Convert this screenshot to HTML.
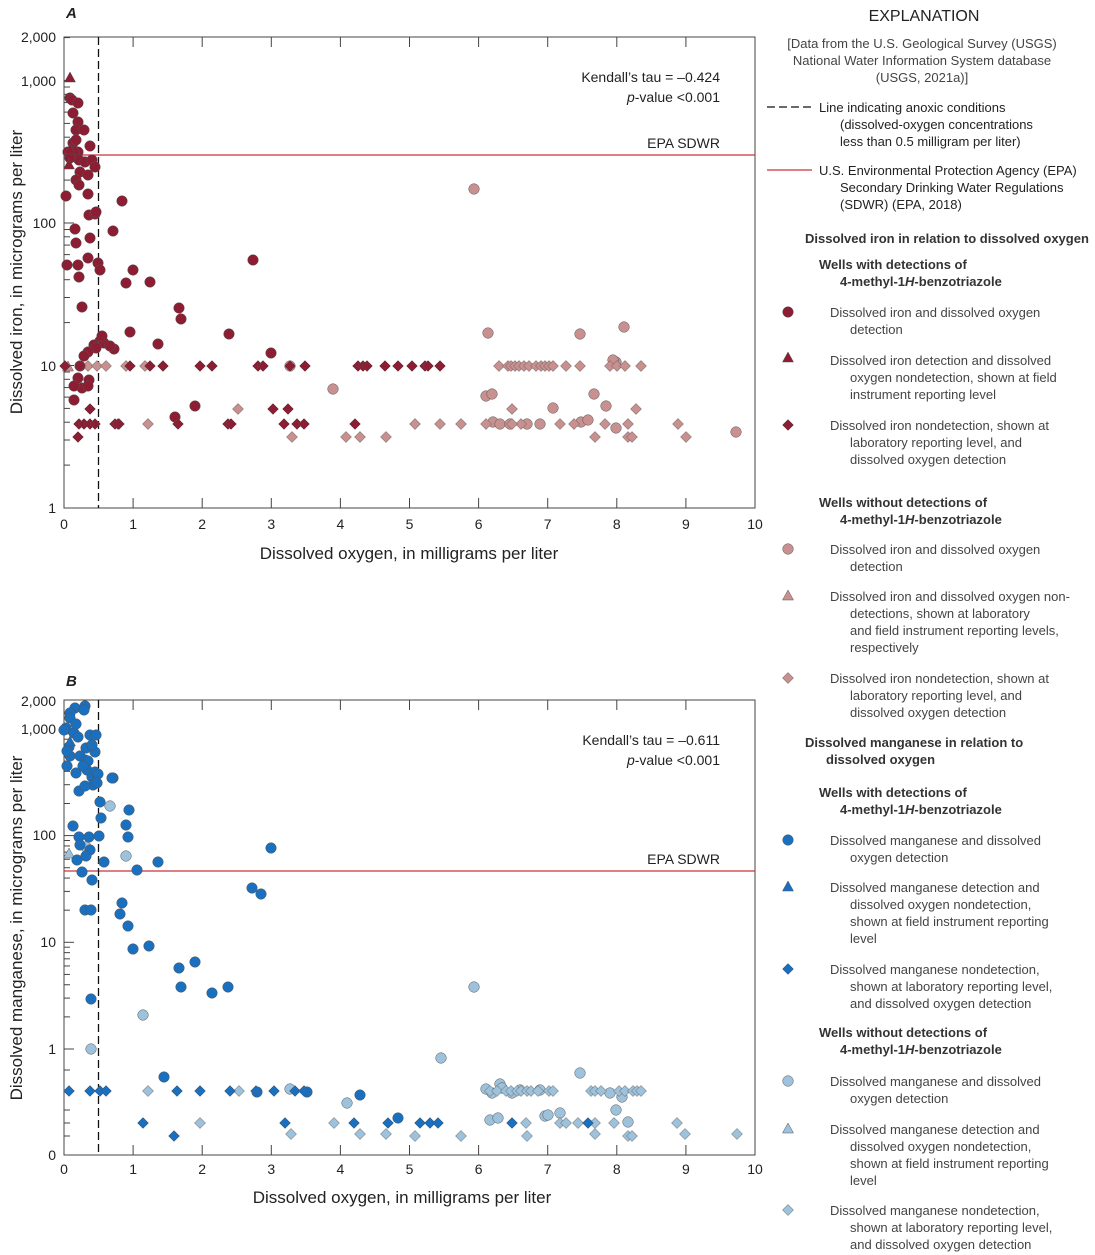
<!DOCTYPE html>
<html><head><meta charset="utf-8"><style>
body{margin:0;background:#fff;}
svg{display:block;font-family:"Liberation Sans Narrow","Liberation Sans",sans-serif;}
</style></head><body>
<svg id="s" width="1095" height="1255" viewBox="0 0 1095 1255" xmlns="http://www.w3.org/2000/svg">
<g font-size="15" fill="#222">
<text x="66" y="18" font-weight="bold" font-style="italic">A</text>
<text x="66" y="686" font-weight="bold" font-style="italic">B</text>
<!-- A axes -->
<rect x="64" y="37" width="691" height="471" fill="none" stroke="#444" stroke-width="1"/>
<line x1="64" y1="155" x2="755" y2="155" stroke="#c8343c" stroke-width="1.3"/>
<line x1="98.5" y1="37" x2="98.5" y2="508" stroke="#111" stroke-width="1.3" stroke-dasharray="8,4"/>
<g text-anchor="end" font-size="14"><text x="56" y="42">2,000</text><text x="56" y="86">1,000</text><text x="56" y="228">100</text><text x="56" y="371">10</text><text x="56" y="513">1</text></g>
<g text-anchor="middle" font-size="14" id="xa"></g>
<text x="409" y="559" text-anchor="middle" font-size="17">Dissolved oxygen, in milligrams per liter</text>
<text transform="translate(22,272) rotate(-90)" text-anchor="middle" font-size="17">Dissolved iron, in micrograms per liter</text>
<text x="720" y="82" text-anchor="end" font-size="14">Kendall’s tau = –0.424</text>
<text x="720" y="102" text-anchor="end" font-size="14"><tspan font-style="italic">p</tspan>-value &lt;0.001</text>
<text x="720" y="148" text-anchor="end" font-size="14">EPA SDWR</text>
<!-- B axes -->
<rect x="64" y="700" width="691" height="455" fill="none" stroke="#444" stroke-width="1"/>
<line x1="64" y1="871" x2="755" y2="871" stroke="#c8343c" stroke-width="1.3"/>
<line x1="98.5" y1="700" x2="98.5" y2="1155" stroke="#111" stroke-width="1.3" stroke-dasharray="8,4"/>
<g text-anchor="end" font-size="14"><text x="56" y="706">2,000</text><text x="56" y="734">1,000</text><text x="56" y="840">100</text><text x="56" y="947">10</text><text x="56" y="1054">1</text><text x="56" y="1160">0</text></g>
<g text-anchor="middle" font-size="14" id="xb"></g>
<text x="402" y="1203" text-anchor="middle" font-size="17">Dissolved oxygen, in milligrams per liter</text>
<text transform="translate(22,928) rotate(-90)" text-anchor="middle" font-size="17">Dissolved manganese, in micrograms per liter</text>
<text x="720" y="745" text-anchor="end" font-size="14">Kendall’s tau = –0.611</text>
<text x="720" y="765" text-anchor="end" font-size="14"><tspan font-style="italic">p</tspan>-value &lt;0.001</text>
<text x="720" y="864" text-anchor="end" font-size="14">EPA SDWR</text>
<!-- Legend -->
<g font-size="13">
<text x="924" y="21" text-anchor="middle" font-size="16">EXPLANATION</text>
<g text-anchor="middle" fill="#444"><text x="922" y="48">[Data from the U.S. Geological Survey (USGS)</text><text x="922" y="65">National Water Information System database</text><text x="922" y="82">(USGS, 2021a)]</text></g>
<line x1="767" y1="107" x2="812" y2="107" stroke="#111" stroke-width="1.3" stroke-dasharray="8,4"/>
<text x="819" y="112">Line indicating anoxic conditions</text><text x="840" y="129">(dissolved-oxygen concentrations</text><text x="840" y="146">less than 0.5 milligram per liter)</text>
<line x1="767" y1="170" x2="812" y2="170" stroke="#c8343c" stroke-width="1.3"/>
<text x="819" y="175">U.S. Environmental Protection Agency (EPA)</text><text x="840" y="192">Secondary Drinking Water Regulations</text><text x="840" y="209">(SDWR) (EPA, 2018)</text>
<g font-weight="bold" fill="#333">
<text x="805" y="243">Dissolved iron in relation to dissolved oxygen</text>
<text x="819" y="269">Wells with detections of</text><text x="840" y="286">4-methyl-1<tspan font-style="italic">H</tspan>-benzotriazole</text>
<text x="819" y="507">Wells without detections of</text><text x="840" y="524">4-methyl-1<tspan font-style="italic">H</tspan>-benzotriazole</text>
<text x="805" y="747">Dissolved manganese in relation to</text><text x="826" y="764">dissolved oxygen</text>
<text x="819" y="797">Wells with detections of</text><text x="840" y="814">4-methyl-1<tspan font-style="italic">H</tspan>-benzotriazole</text>
<text x="819" y="1037">Wells without detections of</text><text x="840" y="1054">4-methyl-1<tspan font-style="italic">H</tspan>-benzotriazole</text>
</g>
<g fill="#444">
<text x="830" y="317">Dissolved iron and dissolved oxygen</text><text x="850" y="334">detection</text>
<text x="830" y="365">Dissolved iron detection and dissolved</text><text x="850" y="382">oxygen nondetection, shown at field</text><text x="850" y="399">instrument reporting level</text>
<text x="830" y="430">Dissolved iron nondetection, shown at</text><text x="850" y="447">laboratory reporting level, and</text><text x="850" y="464">dissolved oxygen detection</text>
<text x="830" y="554">Dissolved iron and dissolved oxygen</text><text x="850" y="571">detection</text>
<text x="830" y="601">Dissolved iron and dissolved oxygen non-</text><text x="850" y="618">detections, shown at laboratory</text><text x="850" y="635">and field instrument reporting levels,</text><text x="850" y="652">respectively</text>
<text x="830" y="683">Dissolved iron nondetection, shown at</text><text x="850" y="700">laboratory reporting level, and</text><text x="850" y="717">dissolved oxygen detection</text>
<text x="830" y="845">Dissolved manganese and dissolved</text><text x="850" y="862">oxygen detection</text>
<text x="830" y="892">Dissolved manganese detection and</text><text x="850" y="909">dissolved oxygen nondetection,</text><text x="850" y="926">shown at field instrument reporting</text><text x="850" y="943">level</text>
<text x="830" y="974">Dissolved manganese nondetection,</text><text x="850" y="991">shown at laboratory reporting level,</text><text x="850" y="1008">and dissolved oxygen detection</text>
<text x="830" y="1086">Dissolved manganese and dissolved</text><text x="850" y="1103">oxygen detection</text>
<text x="830" y="1134">Dissolved manganese detection and</text><text x="850" y="1151">dissolved oxygen nondetection,</text><text x="850" y="1168">shown at field instrument reporting</text><text x="850" y="1185">level</text>
<text x="830" y="1215">Dissolved manganese nondetection,</text><text x="850" y="1232">shown at laboratory reporting level,</text><text x="850" y="1249">and dissolved oxygen detection</text>
</g>
</g>
</g>
<g id="pts"></g>
</svg>
<script>
var s='',NS='http://www.w3.org/2000/svg';
var DR='#8c1d32',LR='#c99090',DB='#1a6fbf',LB='#9ec1dc';
function c(x,y,f){s+='<circle cx="'+x+'" cy="'+y+'" r="5.3" fill="'+f+'" stroke="#555" stroke-width="0.5"/>';}
function t(x,y,f){s+='<polygon points="'+x+','+(y-6)+' '+(x-5.5)+','+(y+4)+' '+(x+5.5)+','+(y+4)+'" fill="'+f+'" stroke="#555" stroke-width="0.5"/>';}
function d(x,y,f){s+='<polygon points="'+x+','+(y-5.5)+' '+(x+5.5)+','+y+' '+x+','+(y+5.5)+' '+(x-5.5)+','+y+'" fill="'+f+'" stroke="#555" stroke-width="0.5"/>';}
var tk='';
for(var i=0;i<=10;i++){var x=64+i*69.1;
 tk+='<line x1="'+x+'" y1="498" x2="'+x+'" y2="508" stroke="#444"/><line x1="'+x+'" y1="37" x2="'+x+'" y2="47" stroke="#444"/>';
 tk+='<line x1="'+x+'" y1="1145" x2="'+x+'" y2="1155" stroke="#444"/><line x1="'+x+'" y1="700" x2="'+x+'" y2="710" stroke="#444"/>';
 document.getElementById('xa').innerHTML+='<text x="'+x+'" y="529">'+i+'</text>';
 document.getElementById('xb').innerHTML+='<text x="'+x+'" y="1174">'+i+'</text>';}
for(var dcd=0;dcd<4;dcd++)for(var m=1;m<10;m++){var y=508-142.5*(dcd+Math.log10(m));if(y<37)continue;
 tk+='<line x1="64" y1="'+y+'" x2="'+(m==1?74:70)+'" y2="'+y+'" stroke="#444"/>';}
for(var dcd=0;dcd<4;dcd++)for(var m=1;m<10;m++){var y=1049-106.7*(dcd+Math.log10(m));if(y<700)continue;
 tk+='<line x1="64" y1="'+y+'" x2="'+(m==1?74:70)+'" y2="'+y+'" stroke="#444"/>';}
[1091,1123,1136,1070,1110].forEach(function(y){tk+='<line x1="64" y1="'+y+'" x2="70" y2="'+y+'" stroke="#444"/>';});
s+=tk;
// A light
[[474,189],[488,333],[580,334],[624,327],[290,366],[333,389],[486,396],[492,394],[594,394],[606,406],[616,362],[613,360],[553,408],[493,422],[500,424],[510,424],[527,424],[581,422],[588,420],[616,428],[736,432],[540,424]].forEach(function(p){c(p[0],p[1],LR)});
t(68,367,LR);
[88,97,106,126,145,499,508,511,515,519,524,529,536,541,545,549,553,566,580,610,617,625,641].forEach(function(x){d(x,366,LR)});
[[148,424],[238,409],[292,437],[346,437],[360,437],[386,437],[415,424],[440,424],[461,424],[486,424],[512,409],[521,424],[560,424],[574,424],[595,437],[605,424],[628,424],[628,437],[632,437],[636,409],[678,424],[686,437],[415,424],[512,424]].forEach(function(p){d(p[0],p[1],LR)});
// A dark
[[70,98],[72,100],[78,103],[73,113],[78,122],[76,130],[84,130],[73,143],[76,140],[78,152],[90,146],[68,152],[74,152],[79,160],[70,158],[85,162],[92,160],[95,167],[80,172],[88,175],[76,180],[79,185],[88,194],[66,196],[122,201],[89,215],[95,214],[96,212],[75,229],[90,238],[113,231],[76,243],[67,265],[78,265],[88,258],[98,263],[100,270],[79,277],[133,270],[126,283],[150,282],[82,307],[253,260],[179,308],[181,319],[229,334],[158,344],[271,353],[130,332],[100,341],[94,345],[104,343],[96,348],[114,349],[102,336],[88,352],[110,346],[195,406],[175,417],[78,378],[89,380],[82,388],[88,386],[74,400],[74,386],[84,356],[80,366]].forEach(function(p){c(p[0],p[1],DR)});
[[70,78],[70,150],[69,165]].forEach(function(p){t(p[0],p[1],DR)});
[65,80,130,163,200,212,258,263,290,305,358,363,367,385,398,412,425,428,440,150].forEach(function(x){d(x,366,DR)});
[79,84,90,95,115,119,178,228,231,284,297,304,355].forEach(function(x){d(x,424,DR)});
[[90,409],[78,437],[273,409],[288,409],[118,424]].forEach(function(p){d(p[0],p[1],DR)});
// B light
[[110,806],[126,856],[86,847],[91,1049],[143,1015],[474,987],[441,1058],[580,1073],[290,1089],[347,1103],[500,1084],[486,1089],[492,1093],[490,1120],[498,1118],[512,1093],[520,1090],[545,1116],[548,1115],[560,1113],[610,1093],[616,1110],[628,1122],[622,1097],[502,1088],[540,1090]].forEach(function(p){c(p[0],p[1],LB)});
t(69,854,LB);
[148,239,490,497,506,511,517,521,527,531,538,549,553,591,595,601,619,625,633,637,641].forEach(function(x){d(x,1091,LB)});
[[200,1123],[334,1123],[526,1123],[560,1123],[566,1123],[578,1123],[595,1123],[614,1123],[677,1123],[291,1134],[360,1134],[386,1134],[415,1136],[461,1136],[527,1136],[595,1134],[628,1136],[632,1136],[685,1134],[737,1134],[566,1123]].forEach(function(p){d(p[0],p[1],LB)});
// B dark
[[75,708],[85,706],[84,710],[70,713],[70,718],[66,728],[74,733],[76,724],[78,737],[90,735],[69,747],[86,748],[96,735],[70,756],[80,756],[85,760],[95,752],[88,761],[67,766],[76,773],[87,770],[92,777],[95,772],[98,774],[93,785],[97,783],[79,791],[85,786],[113,778],[100,802],[112,778],[101,818],[129,810],[126,825],[128,837],[73,826],[79,837],[80,845],[89,837],[90,850],[77,860],[86,856],[99,836],[104,862],[82,872],[92,880],[85,910],[91,910],[158,862],[252,888],[261,894],[271,848],[120,914],[122,903],[128,926],[133,949],[149,946],[179,968],[195,962],[181,987],[212,993],[228,987],[91,999],[164,1077],[257,1092],[360,1095],[307,1092],[398,1118],[137,870],[92,745],[83,766],[67,751],[64,730]].forEach(function(p){c(p[0],p[1],DB)});
t(70,742,DB);
[69,90,100,106,177,200,230,256,274,295,304].forEach(function(x){d(x,1091,DB)});
[143,285,354,388,420,430,438,512,588].forEach(function(x){d(x,1123,DB)});
d(174,1136,DB);
// legend markers
c(788,312,DR);t(788,358,DR);d(788,425,DR);c(788,549,LR);t(788,596,LR);d(788,678,LR);
c(788,840,DB);t(788,887,DB);d(788,969,DB);c(788,1081,LB);t(788,1129,LB);d(788,1210,LB);
document.getElementById('pts').innerHTML=s;
</script>
</body></html>
